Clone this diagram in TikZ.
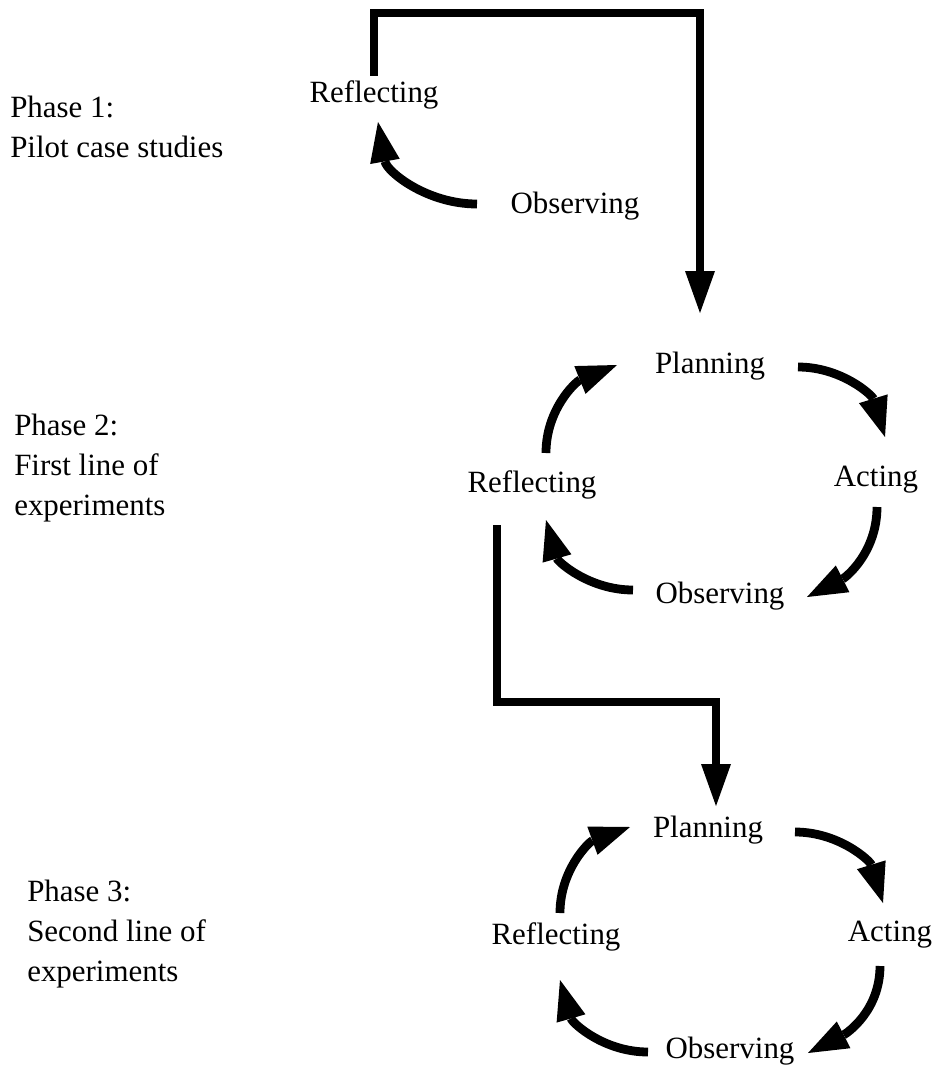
\documentclass[tikz,border=0pt]{standalone}
\usepackage{fontspec}
\setmainfont{Liberation Serif}
\usetikzlibrary{calc,arrows.meta}

\begin{document}
\begin{tikzpicture}[font=\fontsize{22}{28.45}\selectfont,
	phase/.style={align=left,anchor=north west,inner sep=0},
	cyc/.style={-{Triangle[width=0.75cm,length=1cm,line width=0pt]},line width=0.22cm},
	link/.style={-{Triangle[width=0.75cm,length=1.05cm,line width=0pt]},line width=0.19cm}]
	\useasboundingbox (0,0) rectangle (23.525,-26.75);
	\node[phase] (phase1) at (0.25,-2.4) {Phase 1:\\Pilot case studies};
	\node[phase] (phase2) at (0.35,-10.35) {Phase 2:\\First line of\\experiments};
	\node[phase] (phase3) at (0.675,-22.0) {Phase 3:\\Second line of\\experiments};
	% phase 1
	\node (reflect1) at (9.35,-2.375) {Reflecting};
	\node (observe1) at (14.375,-5.15) {Observing};
	% phase 2
	\node (plan2) at (17.75,-9.15) {Planning};
	\node (reflect2) at (13.3,-12.125) {Reflecting};
	\node (act2) at (21.9,-12.0) {Acting};
	\node (observe2) at (18.0,-14.9) {Observing};
	% phase 3
	\node (plan3) at (17.7,-20.75) {Planning};
	\node (reflect3) at (13.9,-23.425) {Reflecting};
	\node (act3) at (22.25,-23.375) {Acting};
	\node (observe3) at (18.25,-26.275) {Observing};
	\coordinate (turn1) at (17.5,-0.325);
	\coordinate (turn2) at (12.425,-17.55);
	\draw[link] (reflect1.north) |- (turn1) -- ($ (plan2) + (-0.25,1.325) $);
	\draw[link] ($ (reflect2) + (-0.875,-1) $) -- (turn2) -| ($ (plan3) + (0.2,0.6) $);
	\draw[cyc] ($ (observe1) + (-2.45,0.05) $) to[out=180,in=-80] ($ (reflect1) + (0.1,-0.675) $);
	\draw[cyc] ($ (reflect2) + (0.35,0.8) $) to[out=90,in=202] ($ (plan2) + (-2.325,0.025) $);
	\draw[cyc] ($ (plan2) + (2.2,-0.025) $) to[out=0,in=107] ($ (act2) + (0.225,1.075) $);
	\draw[cyc] ($ (act2) + (0.025,-0.675) $) to[out=-90,in=27] ($ (observe2) + (2.175,-0.025) $);
	\draw[cyc] ($ (observe2) + (-2.175,0.15) $) to[out=180,in=-74] ($ (reflect2) + (0.35,-0.875) $);
	\draw[cyc] ($ (reflect3) + (0.1,0.6) $) to[out=90,in=200] ($ (plan3) + (-1.95,0.075) $);
	\draw[cyc] ($ (plan3) + (2.175,-0.05) $) to[out=0,in=107] ($ (act3) + (-0.175,0.8) $);
	\draw[cyc] ($ (act3) + (-0.25,-0.775) $) to[out=-90,in=27] ($ (observe3) + (1.95,-0.05) $);
	\draw[cyc] ($ (observe3) + (-2.05,-0.025) $) to[out=180,in=-74] ($ (reflect3) + (0.1,-1.075) $);
	%\draw[cyc] (reflect3) to (plan3);
\end{tikzpicture}
\end{document}
